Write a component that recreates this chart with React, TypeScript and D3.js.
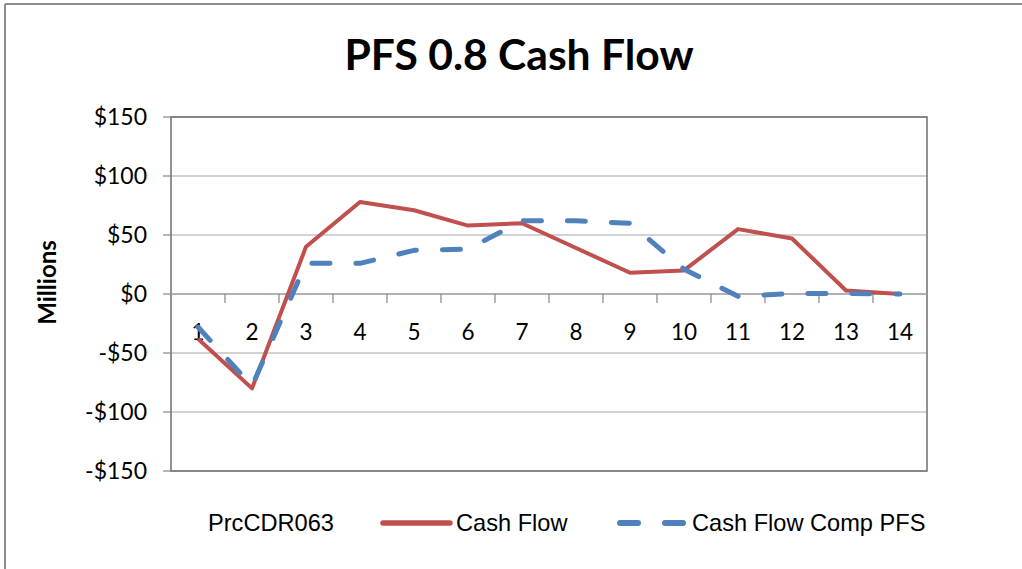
import React from "react";
import * as d3 from "d3";

const categories = ["1","2","3","4","5","6","7","8","9","10","11","12","13","14"];
const cashFlow = [-38, -80, 40, 78, 71, 58, 60, 39, 18, 20, 55, 47, 3, 0];
const cashFlowComp = [-28, -78, 26, 26, 37, 38, 62, 62, 60, 21, -2, 0.5, 0.5, 0];
const yTicks = [-150, -100, -50, 0, 50, 100, 150];
const title = "PFS 0.8 Cash Flow";
const yAxisTitle = "Millions";
const legendSeriesName = "PrcCDR063";
const seriesNames = ["Cash Flow", "Cash Flow Comp PFS"];

const W = 1022, H = 569;
const plot = { left: 171, right: 927, top: 117, bottom: 471 };
const RED = "#C0504D";
const BLUE = "#4F81BD";
const calibri = "Lato, 'Open Sans', sans-serif";
const arial = "'Liberation Sans', Arial, sans-serif";

export default function App() {
  const x = d3.scaleBand<string>().domain(categories).range([plot.left, plot.right]).padding(0);
  const y = d3.scaleLinear().domain([-150, 150]).range([plot.bottom, plot.top]);
  const cx = (c: string) => (x(c) as number) + x.bandwidth() / 2;
  const line = d3.line<number>().x((_, i) => cx(categories[i])).y((d) => y(d));
  const fmt = (v: number) => (v < 0 ? "-$" + Math.abs(v) : "$" + v);
  const tickXs = d3.range(categories.length + 1).map((i) => plot.left + i * x.bandwidth());

  return (
    <svg width={W} height={H} style={{ position: "absolute", left: 0, top: 0, background: "#fff" }}>
      {/* outer frame */}
      <line x1={5} x2={W} y1={4} y2={4} stroke="#8C8C8C" strokeWidth={2} />
      <line x1={5} x2={5} y1={4} y2={H} stroke="#8C8C8C" strokeWidth={2} />
      {/* title */}
      <text x={519} y={70} textAnchor="middle" fontFamily={calibri} fontWeight="bold" fontSize={42.6} fill="#000">{title}</text>
      {/* gridlines */}
      {yTicks.map((t) => (
        <line key={"g" + t} x1={plot.left} x2={plot.right} y1={y(t)} y2={y(t)} stroke="#A6A6A6" strokeWidth={1.2} />
      ))}
      {/* plot border */}
      <rect x={plot.left} y={plot.top} width={plot.right - plot.left} height={plot.bottom - plot.top} fill="none" stroke="#6E6E6E" strokeWidth={1.5} />
      {/* y axis ticks and labels */}
      {yTicks.map((t) => (
        <g key={"y" + t}>
          <line x1={plot.left - 8} x2={plot.left} y1={y(t)} y2={y(t)} stroke="#868686" strokeWidth={1.2} />
          <text x={147} y={y(t)} dy="0.35em" textAnchor="end" fontFamily={calibri} fontSize={23} fill="#000">{fmt(t)}</text>
        </g>
      ))}
      {/* x axis at zero */}
      <line x1={plot.left} x2={plot.right} y1={y(0)} y2={y(0)} stroke="#A6A6A6" strokeWidth={1.5} />
      {tickXs.slice(1, -1).map((tx, i) => (
        <line key={"xt" + i} x1={tx} x2={tx} y1={y(0)} y2={y(0) + 9} stroke="#868686" strokeWidth={1.2} />
      ))}
      {categories.map((c) => (
        <text key={"xl" + c} x={cx(c)} y={332} dy="0.35em" textAnchor="middle" fontFamily={calibri} fontSize={22.5} fill="#000">{c}</text>
      ))}
      {/* y axis title */}
      <text transform="translate(48,282.5) rotate(-90)" dy="0.35em" textAnchor="middle" fontFamily={calibri} fontWeight="bold" fontSize={24} fill="#000">{yAxisTitle}</text>
      {/* series */}
      <path d={line(cashFlow) || ""} fill="none" stroke={RED} strokeWidth={4} strokeLinejoin="round" />
      <path d={line(cashFlowComp) || ""} fill="none" stroke={BLUE} strokeWidth={5} strokeDasharray="18 26" strokeLinecap="round" strokeLinejoin="round" />
      {/* legend */}
      <text x={208} y={523} dy="0.35em" fontFamily={arial} fontSize={23.6} fill="#000">{legendSeriesName}</text>
      <line x1={383} x2={450} y1={523} y2={523} stroke={RED} strokeWidth={5.5} strokeLinecap="round" />
      <text x={456} y={523} dy="0.35em" fontFamily={arial} fontSize={23.6} fill="#000">{seriesNames[0]}</text>
      <line x1={620} x2={688} y1={523} y2={523} stroke={BLUE} strokeWidth={6} strokeDasharray="18 27" strokeLinecap="round" />
      <text x={692} y={523} dy="0.35em" fontFamily={arial} fontSize={23.6} fill="#000">{seriesNames[1]}</text>
    </svg>
  );
}
